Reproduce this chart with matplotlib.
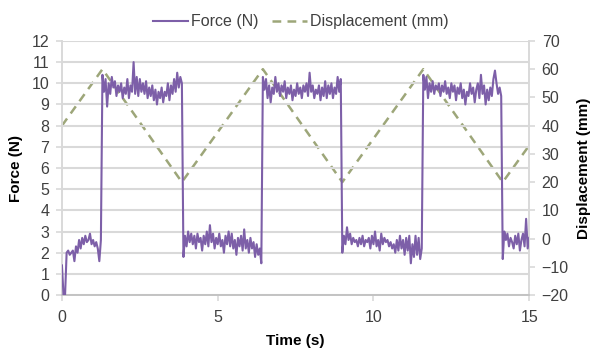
import numpy as np
import matplotlib
matplotlib.use("Agg")
import matplotlib.pyplot as plt

plt.rcParams['font.family'] = ['Liberation Sans', 'DejaVu Sans']

# force samples, one every 0.05 s starting at t = 0
SAMPLE_STEP = 0.05
force_n = [
    1.4, 0.0, 0.0, 2.0,
    # low, 0.20 - 1.25 s
    2.1, 1.9, 2.0, 2.1, 1.6, 2.3, 2.0, 2.6, 2.2, 2.7, 2.4, 2.8, 2.5, 2.6, 2.9, 2.4,
    2.6, 2.3, 2.5, 2.2, 1.6, 2.6,
    # high, 1.30 - 3.85 s
    10.4, 9.6, 10.2, 8.9, 10.0, 9.5, 10.3, 9.8, 10.1, 9.4, 9.9, 9.6, 10.0, 9.3, 9.8, 9.5,
    10.2, 9.3, 9.9, 9.6, 11.0, 9.5, 10.3, 9.4, 10.2, 9.6, 10.0, 9.5, 10.1, 9.3, 9.8, 9.4,
    9.9, 9.2, 9.7, 9.0, 9.6, 9.3, 9.8, 9.1, 9.6, 9.4, 10.0, 9.2, 9.9, 9.5, 10.2, 9.6,
    10.5, 9.8, 10.3, 10.0,
    # low, 3.90 - 6.40 s
    1.8,
    2.8, 2.3, 3.0, 2.5, 2.9, 2.4, 2.8, 2.2, 2.9, 2.5, 2.7, 2.1, 2.8, 2.4, 3.0, 2.3,
    3.3, 2.5, 2.9, 2.2, 2.7, 2.4, 2.9, 2.3, 2.6, 2.0, 2.8, 2.4, 3.0, 2.3, 2.9, 2.2,
    2.6, 1.9, 2.7, 2.3, 2.8, 2.1, 3.1, 2.2, 2.6, 2.0, 2.7, 2.2, 2.5, 1.8, 2.4, 1.9,
    2.2, 1.5,
    # high, 6.45 - 8.95 s
    10.3,
    9.7, 10.2, 9.3, 9.9, 9.1, 9.8, 9.5, 10.3, 9.6, 10.0, 9.4, 9.9, 9.6, 10.1, 9.3, 9.8,
    9.5, 9.9, 9.2, 9.7, 9.4, 10.0, 9.5, 9.8, 9.3, 9.9, 9.6, 10.0, 9.4, 10.5, 9.6, 9.9,
    9.3, 9.7, 9.5, 9.9, 9.2, 9.8, 9.4, 10.1, 9.3, 9.9, 9.5, 10.0, 9.3, 9.8, 9.5, 10.3,
    9.6, 10.2,
    # low, 9.00 - 11.55 s
    2.0,
    2.8, 2.4, 3.2, 2.6, 2.9, 2.4, 2.7, 2.5, 2.6, 2.3, 2.7, 2.4, 2.8, 2.3, 2.6, 2.5,
    2.7, 2.2, 2.8, 2.4, 3.0, 2.3, 2.6, 2.1, 2.9, 2.4, 2.7, 2.5, 2.6, 2.3, 2.5, 2.2,
    2.4, 2.0, 2.6, 2.1, 2.8, 2.2, 2.6, 1.9, 2.7, 2.1, 2.8, 1.5, 2.4, 1.8, 2.8, 1.9,
    2.7, 1.7, 2.2,
    # high, 11.60 - 14.10 s
    10.4,
    9.7, 10.3, 9.3, 10.0, 9.6, 10.1, 9.5, 9.9, 9.7, 10.0, 9.4, 9.9, 9.6, 10.1, 9.5, 9.8,
    9.3, 10.0, 9.6, 9.9, 9.2, 9.8, 9.5, 10.0, 9.3, 9.7, 9.0, 9.6, 9.4, 10.0, 9.5, 9.8,
    9.1, 9.7, 10.0, 9.3, 10.4, 9.5, 9.9, 9.0, 9.7, 9.2, 9.8, 9.4, 10.2, 10.6, 10.0, 9.5,
    9.8, 9.4,
    # low, 14.15 - 15.00 s
    1.7,
    3.0, 2.6, 2.9, 2.3, 2.7, 2.5, 2.2, 2.8, 2.4, 2.9, 2.1, 2.6, 2.9, 2.3, 3.6, 2.2, 2.7,
]
time_s = np.arange(len(force_n)) * SAMPLE_STEP

# displacement turning points (triangle wave)
disp_t = [0, 1.3, 3.85, 6.45, 9.0, 11.6, 14.15, 15]
disp_mm = [40, 60, 20, 60, 20, 60, 20, 33]

force_ticks = list(range(0, 13))
disp_ticks = list(range(-20, 71, 10))
time_ticks = [0, 5, 10, 15]

PURPLE = '#7d5fa8'
OLIVE = '#9da679'
GRID = '#d9d9d9'
TXT = '#404040'

fig = plt.figure(figsize=(5.9, 3.5), dpi=100)
ax = fig.add_axes([0.105, 0.157, 0.792, 0.726])
ax2 = ax.twinx()

l1, = ax.plot(time_s, force_n, color=PURPLE, lw=1.5, zorder=3)
l2, = ax2.plot(disp_t, disp_mm, color=OLIVE, lw=1.8, dashes=(3.5, 2.5))

ax.set_zorder(ax2.get_zorder() + 1)
ax.patch.set_visible(False)

ax.set_xlim(0, 15)
ax.set_ylim(0, 12)
ax2.set_ylim(-20, 70)
ax.set_xticks(time_ticks)
ax.set_yticks(force_ticks)
ax2.set_yticks(disp_ticks)

ax.yaxis.grid(True, color=GRID, lw=1.5)
ax.set_axisbelow(True)

for a in (ax, ax2):
    a.spines['top'].set_visible(False)
    for s in ('left', 'right', 'bottom'):
        a.spines[s].set_color(GRID)
        a.spines[s].set_linewidth(1.2)
    a.tick_params(colors=GRID, labelcolor=TXT, labelsize=11.5, length=4, width=1.2, pad=5)
ax.spines['bottom'].set_color('#bfbfbf')
ax.tick_params(axis='x', pad=7)

ax.set_xlabel('Time (s)', fontsize=11, fontweight='bold', labelpad=6)
ax.set_ylabel('Force (N)', fontsize=11, fontweight='bold', labelpad=6)
ax2.set_ylabel('Displacement (mm)', fontsize=11, fontweight='bold', labelpad=6)

fig.legend([l1, l2], ['Force (N)', 'Displacement (mm)'], loc='upper center',
           bbox_to_anchor=(0.51, 1.0), ncol=2, frameon=False, fontsize=11.5,
           labelcolor=TXT, handlelength=2.2, handletextpad=0.2, columnspacing=0.8)

fig.savefig('out.png', dpi=100)
